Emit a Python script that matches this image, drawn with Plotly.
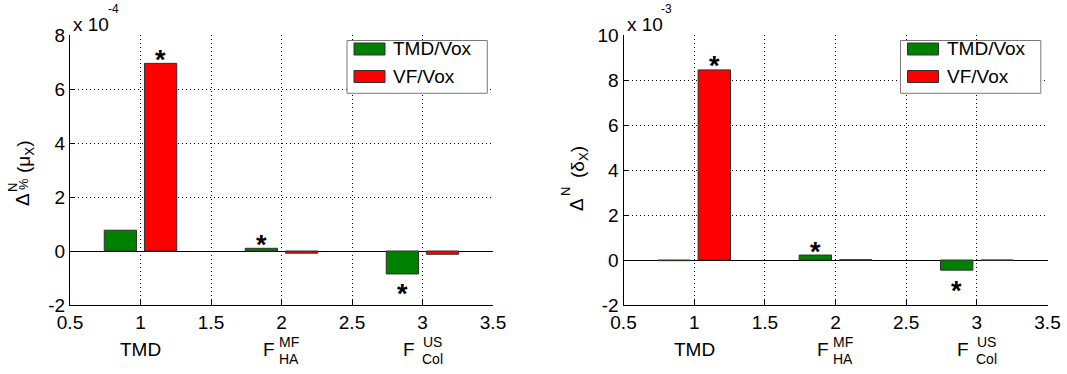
import plotly.graph_objects as go

W, H = 1067, 374
FONT = "Liberation Sans, Arial, Helvetica, sans-serif"

# ---- data -------------------------------------------------------------
categories = [1, 2, 3]
x_tickvals = [0.5, 1, 1.5, 2, 2.5, 3, 3.5]
x_ticktext = ["0.5", "1", "1.5", "2", "2.5", "3", "3.5"]

series_names = ["TMD/Vox", "VF/Vox"]
series_colors = ["#008000", "#ff0000"]

# left panel: relative change of the mean, in units of 1e-4
mu_tmd = [0.77, 0.10, -0.85]
mu_vf = [6.95, -0.08, -0.12]
mu_sig_tmd = [False, True, True]
mu_sig_vf = [True, False, False]
mu_yticks = [-2, 0, 2, 4, 6, 8]
mu_exponent = "-4"

# right panel: change of the spread, in units of 1e-3
delta_tmd = [-0.03, 0.22, -0.45]
delta_vf = [8.45, 0.01, -0.01]
delta_sig_tmd = [False, True, True]
delta_sig_vf = [True, False, False]
delta_yticks = [-2, 0, 2, 4, 6, 8, 10]
delta_exponent = "-3"

# ---- layout helpers ------------------------------------------------------
def px(x):
    return x / W


def py(y):
    return 1 - y / H


PLOT_TOP, PLOT_BOTTOM = 35, 305
panels = [
    dict(left=70.0, right=493.0, xa="x", ya="y", xaxis="xaxis", yaxis="yaxis",
         tmd=mu_tmd, vf=mu_vf, sig=(mu_sig_tmd, mu_sig_vf), yticks=mu_yticks,
         exp=mu_exponent),
    dict(left=623.5, right=1047.5, xa="x2", ya="y2", xaxis="xaxis2", yaxis="yaxis2",
         tmd=delta_tmd, vf=delta_vf, sig=(delta_sig_tmd, delta_sig_vf),
         yticks=delta_yticks, exp=delta_exponent),
]

BAR_WIDTH = 0.229
BAR_OFFSETS = [-0.257, 0.028]
GLYPH_RAISE = 7.5  # asterisk glyph sits above the centre of its text box

fig = go.Figure()
shapes = []
annotations = []

for p in panels:
    for k, vals in enumerate([p["tmd"], p["vf"]]):
        fig.add_trace(go.Bar(
            x=categories, y=vals, name=series_names[k],
            width=BAR_WIDTH, offset=BAR_OFFSETS[k],
            marker=dict(color=series_colors[k], line=dict(color="#303030", width=1)),
            xaxis=p["xa"], yaxis=p["ya"], showlegend=False,
        ))
        # significance asterisks
        centre = BAR_OFFSETS[k] + BAR_WIDTH / 2
        for c, v, s in zip(categories, vals, p["sig"][k]):
            if not s:
                continue
            shift = 11 if v >= 0 else -13
            annotations.append(dict(
                x=c + centre, y=v, xref=p["xa"], yref=p["ya"], text="<b>*</b>",
                showarrow=False, xanchor="center", yanchor="middle",
                yshift=shift - GLYPH_RAISE, font=dict(family=FONT, size=27, color="black"),
            ))

    L = p["left"]
    # exponent label above the y axis
    annotations.append(dict(x=px(L + 21), y=py(24), xref="paper", yref="paper",
                            text="x 10", showarrow=False, xanchor="center", yanchor="middle",
                            font=dict(family=FONT, size=19, color="black")))
    annotations.append(dict(x=px(L + 43), y=py(9), xref="paper", yref="paper",
                            text=p["exp"], showarrow=False, xanchor="center", yanchor="middle",
                            font=dict(family=FONT, size=12, color="black")))

    # legend box
    shapes.append(dict(type="rect", xref="paper", yref="paper", layer="above",
                       x0=px(L + 277), x1=px(L + 417.3), y0=py(93.3), y1=py(40.5),
                       fillcolor="white", line=dict(color="#7a7a7a", width=1)))
    for k, (name, col) in enumerate(zip(series_names, series_colors)):
        yc = 49 + k * 27.5
        shapes.append(dict(type="rect", xref="paper", yref="paper", layer="above",
                           x0=px(L + 284), x1=px(L + 315), y0=py(yc + 6), y1=py(yc - 6),
                           fillcolor=col, line=dict(color="#303030", width=1)))
        annotations.append(dict(x=px(L + 321), y=py(yc), xref="paper", yref="paper",
                                text=name, showarrow=False, xanchor="left", yanchor="middle",
                                font=dict(family=FONT, size=19, color="black")))

    # category labels under the axis
    annotations.append(dict(x=1, y=py(349), xref=p["xa"], yref="paper", text="TMD",
                            showarrow=False, xanchor="center", yanchor="middle",
                            font=dict(family=FONT, size=19, color="black")))
    for c, sup, sub, fs, ss in [(2, "MF", "HA", -13, 7), (3, "US", "Col", -14, 10)]:
        annotations.append(dict(x=c, y=py(349), xref=p["xa"], yref="paper", text="F",
                                showarrow=False, xanchor="center", yanchor="middle",
                                xshift=fs, font=dict(family=FONT, size=19, color="black")))
        annotations.append(dict(x=c, y=py(342), xref=p["xa"], yref="paper", text=sup,
                                showarrow=False, xanchor="center", yanchor="middle",
                                xshift=ss, font=dict(family=FONT, size=14, color="black")))
        annotations.append(dict(x=c, y=py(359), xref=p["xa"], yref="paper", text=sub,
                                showarrow=False, xanchor="center", yanchor="middle",
                                xshift=ss, font=dict(family=FONT, size=14, color="black")))

# y-axis titles (rotated, with stacked super/subscripts)
rot = dict(showarrow=False, xref="paper", yref="paper", textangle=-90,
           xanchor="center", yanchor="middle")
annotations += [
    dict(x=px(22), y=py(200), text="Δ", font=dict(family=FONT, size=19, color="black"), **rot),
    dict(x=px(12), y=py(188), text="N", font=dict(family=FONT, size=13, color="black"), **rot),
    dict(x=px(23), y=py(184), text="%", font=dict(family=FONT, size=13, color="black"), **rot),
    dict(x=px(25), y=py(157), text="(μ<sub>X</sub>)",
         font=dict(family=FONT, size=19, color="black"), **rot),
    dict(x=px(576), y=py(205), text="Δ", font=dict(family=FONT, size=19, color="black"), **rot),
    dict(x=px(565), y=py(192), text="N", font=dict(family=FONT, size=13, color="black"), **rot),
    dict(x=px(579), y=py(162), text="(δ<sub>X</sub>)",
         font=dict(family=FONT, size=19, color="black"), **rot),
]

axis_common = dict(
    showline=True, linecolor="black", linewidth=1, mirror=False, automargin=False,
    ticks="inside", ticklen=5, tickcolor="black", tickwidth=1,
    showgrid=True, gridcolor="black", gridwidth=1, griddash="1px,3px",
    tickfont=dict(family=FONT, size=19, color="black"), fixedrange=True,
)

layout_axes = {}
for i, p in enumerate(panels):
    layout_axes[p["xaxis"]] = dict(
        axis_common, domain=[px(p["left"]), px(p["right"])], range=[0.5, 3.5],
        tickmode="array", tickvals=x_tickvals, ticktext=x_ticktext,
        zeroline=False, anchor=p["ya"],
    )
    yt = p["yticks"]
    layout_axes[p["yaxis"]] = dict(
        axis_common, domain=[py(PLOT_BOTTOM), py(PLOT_TOP)], range=[yt[0], yt[-1]],
        tickmode="array", tickvals=yt, ticktext=[str(t) for t in yt],
        zeroline=True, zerolinecolor="black", zerolinewidth=1, anchor=p["xa"],
    )

fig.update_layout(
    template="none",
    width=W, height=H, autosize=False,
    margin=dict(l=0, r=0, t=0, b=0, pad=0, autoexpand=False),
    paper_bgcolor="white", plot_bgcolor="white",
    barmode="overlay", showlegend=False,
    font=dict(family=FONT, size=18, color="black"),
    shapes=shapes, annotations=annotations,
    **layout_axes,
)

fig.write_html("out.html")
